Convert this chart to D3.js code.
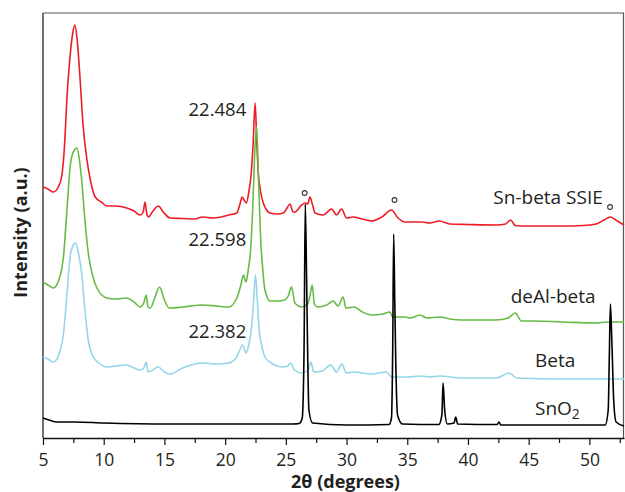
<!DOCTYPE html>
<html>
<head>
<meta charset="utf-8">
<script src="https://cdnjs.cloudflare.com/ajax/libs/d3/7.8.5/d3.min.js"></script>
<style>
    html, body { margin: 0; padding: 0; background: #ffffff; }
    svg { display: block; font-family: "Open Sans", sans-serif; }
</style>
</head>
<body>
<div id="chart"></div>
<script>

//          XRD patterns (2theta in degrees, stacked intensity in a.u.)
var snBetaTheta = [5.0, 5.4, 5.85, 6.3, 6.56, 6.8, 6.97, 7.2, 7.45, 7.62, 7.8, 8.07, 8.3, 8.6, 8.9, 9.3, 9.8, 10.26, 11.0, 11.9,
    12.5, 13.0, 13.25, 13.4, 13.55, 13.7, 14.0, 14.5, 14.9, 15.47, 16.5, 17.5, 18.14, 19.0, 20.3, 20.96, 21.2, 21.4, 21.6, 21.75,
    21.95, 22.15, 22.3, 22.47, 22.6, 22.73, 22.9, 23.14, 23.7, 24.3, 24.8, 25.1, 25.34, 25.6, 25.75, 26.3, 26.6, 26.8, 26.98, 27.2,
    27.4, 28.08, 28.77, 29.18, 29.6, 30.0, 30.55, 31.3, 32.06, 32.9, 33.7, 34.24, 34.8, 35.5, 36.17, 36.85, 37.67, 38.5, 40.0, 42.33,
    43.1, 43.5, 43.9, 45.0, 47.8, 49.5, 50.55, 51.2, 51.73, 52.3, 52.85];
var snBetaIntensity = [251, 249, 246, 252, 263, 298, 340, 378, 405, 413, 400, 356, 313, 280, 258, 241, 236, 232, 232, 230,
    227, 223, 226, 236, 224, 221, 226, 232, 226, 220, 219.5, 219, 221, 220, 223, 225, 233, 241, 237, 235,
    246, 265, 293, 335, 298, 265, 248, 235, 225, 224, 225, 230, 234, 226, 226, 233, 235, 234, 241, 233,
    225, 223, 229, 223, 229, 220, 221, 219, 217, 221, 228, 220, 216, 216, 216, 215, 217, 214, 213.5, 213,
    214, 218, 212.5, 212, 212, 212.5, 214, 218, 221, 217, 213];

var deAlTheta = [5.0, 5.4, 5.85, 6.3, 6.7, 7.0, 7.25, 7.5, 7.8, 8.0, 8.2, 8.45, 8.75, 9.1, 9.44, 10.26, 11.0, 11.9, 12.5, 13.0,
    13.3, 13.5, 13.65, 13.85, 14.2, 14.6, 15.0, 15.4, 16.5, 18.14, 19.3, 20.3, 20.96, 21.3, 21.5, 21.72, 21.9, 22.1, 22.3, 22.45,
    22.6, 22.75, 22.93, 23.1, 23.28, 23.7, 24.3, 24.9, 25.2, 25.47, 25.75, 26.3, 26.8, 27.0, 27.17, 27.35, 27.6, 28.36, 28.9, 29.3,
    29.72, 29.95, 30.63, 31.3, 32.06, 33.0, 33.56, 33.8, 34.8, 35.25, 36.07, 36.6, 37.67, 38.5, 39.5, 41.0, 42.33, 43.3, 43.9, 44.4,
    45.5, 47.8, 50.55, 51.5, 52.85];
var deAlIntensity = [156, 153, 150, 158, 183, 233, 273, 286, 290, 278, 256, 218, 183, 162, 150, 140, 139, 140, 136, 131,
    135, 143, 131, 130, 140, 151, 138, 130, 131, 133, 132, 131, 140, 153, 163, 156, 168, 188, 238, 288,
    311, 258, 198, 168, 148, 137, 137, 138, 142, 151, 135, 131, 134, 143, 153, 134, 131, 133, 137, 132,
    141, 130, 131, 126, 123, 124, 126, 121, 121, 120, 123, 120, 121, 119, 118, 118, 118, 120, 125, 117,
    117, 116, 115, 116, 116];

var betaTheta = [5.0, 5.4, 5.85, 6.3, 6.7, 7.0, 7.25, 7.5, 7.7, 7.95, 8.2, 8.45, 8.75, 9.1, 9.6, 10.26, 11.0, 11.9, 12.5, 13.0,
    13.3, 13.5, 13.65, 13.9, 14.5, 15.0, 15.47, 16.5, 18.14, 19.3, 20.3, 20.96, 21.2, 21.45, 21.72, 21.95, 22.15, 22.35, 22.5, 22.65,
    22.8, 23.0, 23.28, 23.8, 24.8, 25.15, 25.4, 25.7, 26.3, 26.85, 27.06, 27.3, 28.0, 28.7, 29.18, 29.6, 30.0, 30.55, 32.06, 33.3,
    33.7, 35.0, 36.17, 36.85, 37.67, 39.5, 42.33, 43.4, 44.0, 47.8, 52.85];
var betaIntensity = [81, 79, 76, 83, 106, 148, 183, 193, 195, 183, 163, 128, 96, 82, 75, 71, 72, 73, 70, 68,
    70, 76, 66, 67, 71, 66, 64, 70, 75, 74, 75, 81, 88, 93, 85, 93, 108, 138, 163, 138,
    108, 93, 81, 75, 71, 72, 75, 68, 65, 68, 76, 66, 67, 73, 66, 74, 65, 66, 64, 66,
    61, 61, 62, 61, 62, 60, 60, 65, 60, 59, 59];

var sno2Theta = [5.0, 5.5, 6.15, 7.6, 10.0, 15.4, 20.0, 25.6, 26.1, 26.35, 26.5, 26.6, 26.7, 26.78, 26.9, 27.2, 30.0, 33.5, 33.7, 33.8,
    33.88, 33.97, 34.05, 34.2, 34.6, 37.6, 37.85, 37.95, 38.08, 38.3, 38.85, 38.99, 39.15, 42.4, 42.55, 42.7, 51.3, 51.55, 51.65, 51.73,
    51.82, 51.88, 52.0, 52.2, 52.85];
var sno2Intensity = [20, 18, 16, 16, 15, 14, 14, 14, 14.5, 20, 88, 234, 168, 98, 28, 15, 13, 13.5, 20, 88,
    204, 138, 78, 23, 14, 13.5, 23, 55, 28, 14, 15, 21, 14, 13.5, 16, 13, 13, 28, 88, 134,
    108, 85, 38, 16, 12];

var seriesNames = ["Sn-beta SSIE", "deAl-beta", "Beta", "SnO2"];
var seriesColors = ["#ed1c24", "#66bb46", "#94d6e8", "#000000"];

//          Peak labels and SnO2 markers
var peakLabels = ["22.484", "22.598", "22.382"];
var markerTheta = [26.55, 33.95, 51.7];

//          Chart settings
var width = 625, height = 492;
var margin = {top: 13, right: 1, bottom: 54, left: 43};
var textColor = "#231f20";
var xTicks = [5, 10, 15, 20, 25, 30, 35, 40, 45, 50];
var xMinorTicks = [7.5, 12.5, 17.5, 22.5, 27.5, 32.5, 37.5, 42.5, 47.5, 52.5];

var svgChart = d3.select("#chart")
    .append("svg")
    .attr("width", width)
    .attr("height", height);

var x = d3.scaleLinear().domain([5, 52.85]).range([margin.left, width - margin.right]);
var y = d3.scaleLinear().domain([0, 425]).range([height - margin.bottom, margin.top]);

//          Frame
svgChart.append("line")
    .attr("x1", margin.left).attr("x2", width - margin.right)
    .attr("y1", margin.top).attr("y2", margin.top)
    .style("stroke", "#555").style("stroke-width", 1.2);
svgChart.append("line")
    .attr("x1", width - margin.right - 0.5).attr("x2", width - margin.right - 0.5)
    .attr("y1", margin.top).attr("y2", height - margin.bottom)
    .style("stroke", "#555").style("stroke-width", 1.2);
svgChart.append("line")
    .attr("x1", margin.left).attr("x2", margin.left)
    .attr("y1", margin.top).attr("y2", height - margin.bottom)
    .style("stroke", "#333").style("stroke-width", 1.4);

//          X axis
var xAxis = svgChart.append("g")
    .attr("transform", "translate(0," + (height - margin.bottom) + ")")
    .call(d3.axisBottom(x).tickValues(xTicks).tickSize(7).tickPadding(9).tickSizeOuter(0));
xAxis.select(".domain").style("stroke", "#111").style("stroke-width", 1.4);
xAxis.selectAll(".tick line").style("stroke", "#111").style("stroke-width", 1.2);
xAxis.selectAll("text")
    .style("font-family", "'Open Sans', sans-serif")
    .style("font-size", "17.5px")
    .style("fill", textColor);

var xMinor = svgChart.append("g")
    .attr("transform", "translate(0," + (height - margin.bottom) + ")")
    .call(d3.axisBottom(x).tickValues(xMinorTicks).tickSize(5).tickFormat("").tickSizeOuter(0));
xMinor.select(".domain").remove();
xMinor.selectAll(".tick line").style("stroke", "#111").style("stroke-width", 1.2);

//          Patterns
var patterns = [
    [snBetaTheta, snBetaIntensity],
    [deAlTheta, deAlIntensity],
    [betaTheta, betaIntensity],
    [sno2Theta, sno2Intensity]
];

var line = d3.line()
    .x(function(d) { return x(d[0]); })
    .y(function(d) { return y(d[1]); })
    .curve(d3.curveMonotoneX);

svgChart.selectAll("path.pattern").data(patterns).enter().append("path")
    .attr("class", "pattern")
    .attr("d", function(p) { return line(d3.zip(p[0], p[1])); })
    .style("fill", "none")
    .style("stroke", function(d, i) { return seriesColors[i]; })
    .style("stroke-width", 1.6)
    .style("stroke-linejoin", "round");

//          Markers above SnO2 reflections
var markerIntensity = [245, 238, 231];
svgChart.selectAll("circle.marker").data(markerTheta).enter().append("circle")
    .attr("class", "marker")
    .attr("cx", function(d) { return x(d); })
    .attr("cy", function(d, i) { return y(markerIntensity[i]); })
    .attr("r", 2.4)
    .style("fill", "none")
    .style("stroke", "#333")
    .style("stroke-width", 1.1);

//          Peak position labels
var peakLabelTheta = 21.74;
var peakLabelIntensity = [322, 192.5, 99.7];
svgChart.selectAll("text.peak").data(peakLabels).enter().append("text")
    .attr("class", "peak")
    .text(function(d) { return d; })
    .attr("x", x(peakLabelTheta))
    .attr("y", function(d, i) { return y(peakLabelIntensity[i]); })
    .attr("text-anchor", "end")
    .style("font-size", "18.5px")
    .style("fill", textColor);

//          Series labels
var nameTheta = [42.09, 43.52, 45.52, 45.52];
var nameIntensity = [234, 135.3, 71.3, 23];
var names = svgChart.selectAll("text.name").data(seriesNames).enter().append("text")
    .attr("class", "name")
    .attr("x", function(d, i) { return x(nameTheta[i]); })
    .attr("y", function(d, i) { return y(nameIntensity[i]); })
    .style("font-size", "19px")
    .style("fill", textColor);
names.each(function(d) {
    var t = d3.select(this);
    if (d === "SnO2") {
        t.append("tspan").text("SnO");
        t.append("tspan").text("2").attr("dy", 4).style("font-size", "14px");
    } else {
        t.text(d);
    }
});

//          Axis titles
svgChart.append("text")
    .text("Intensity (a.u.)")
    .attr("transform", "translate(27,232.5) rotate(-90)")
    .attr("text-anchor", "middle")
    .style("font-size", "18px")
    .style("font-weight", "bold")
    .style("fill", textColor);

svgChart.append("text")
    .text("2θ (degrees)")
    .attr("x", 345.5)
    .attr("y", 488)
    .attr("text-anchor", "middle")
    .style("font-size", "18px")
    .style("font-weight", "bold")
    .style("fill", textColor);

</script>
</body>
</html>
